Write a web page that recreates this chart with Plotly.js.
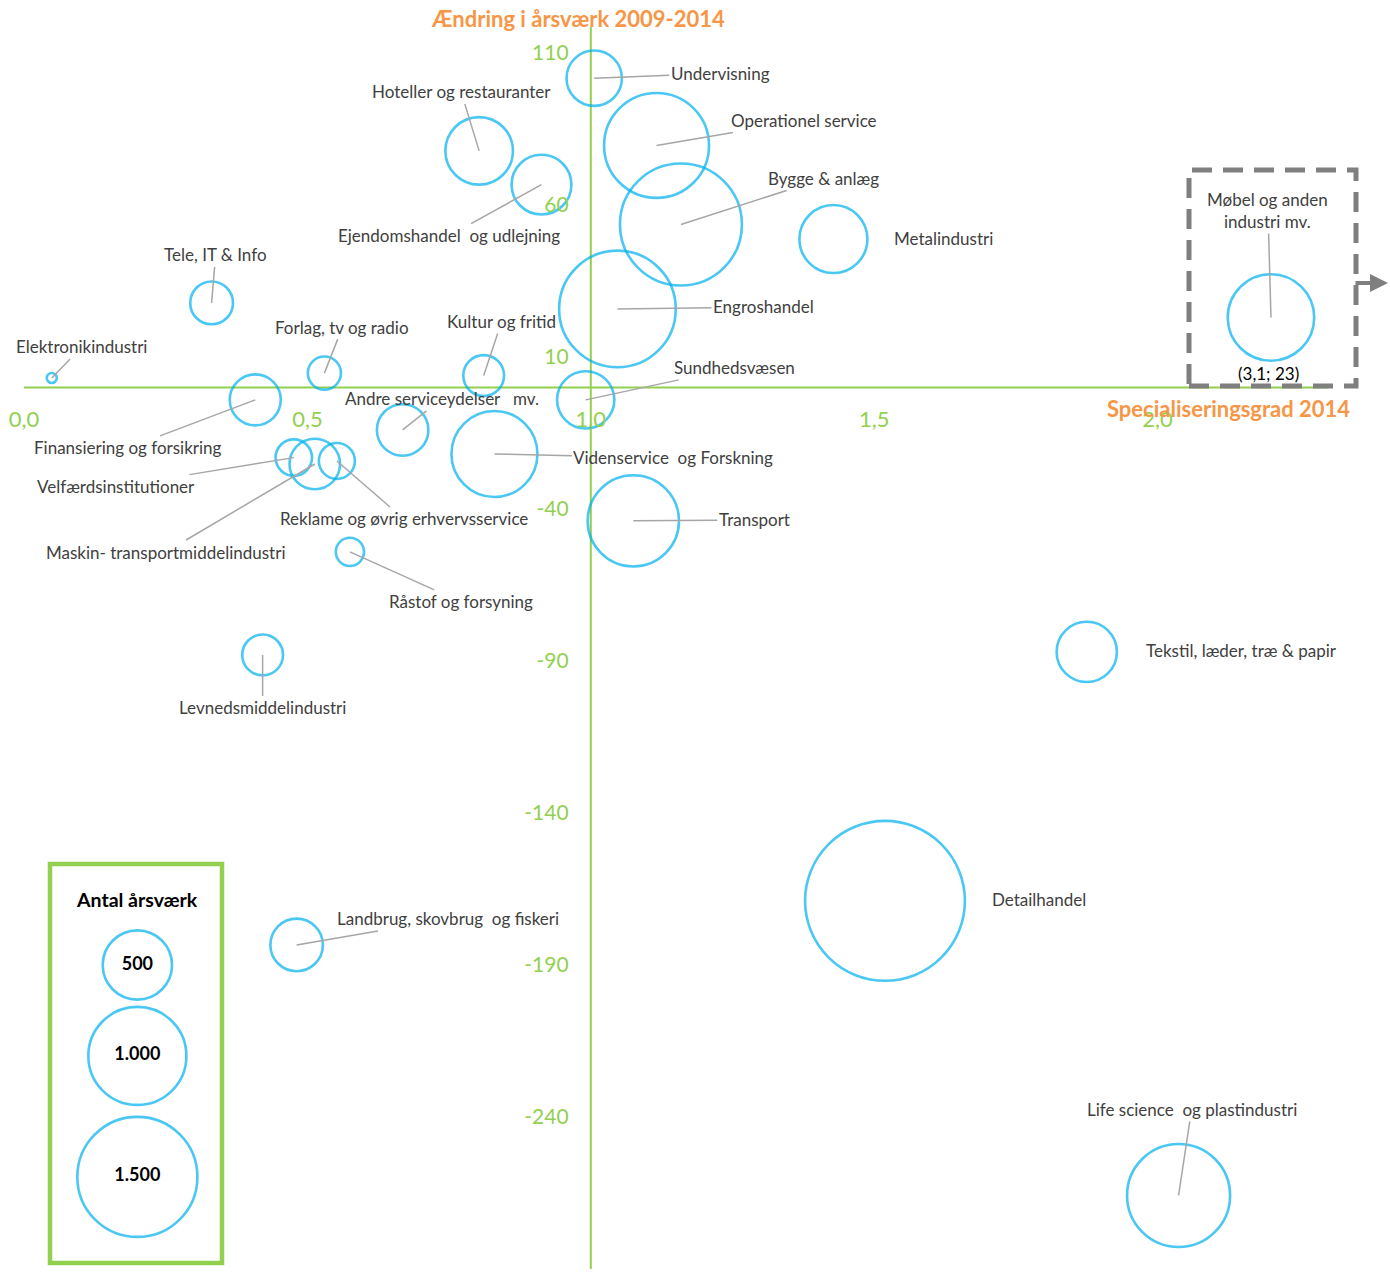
<!DOCTYPE html>
<html>
<head>
<meta charset="utf-8">
<script src="https://cdn.plot.ly/plotly-3.0.1.min.js"></script>
<style>
  body { margin: 0; background: #fff; }
  #chart { width: 1390px; height: 1278px; }
</style>
</head>
<body>
<div id="chart"></div>
<script>
// brancher, specialiseringsgrad 2014 (x), ændring i årsværk 2009-2014 (y), antal årsværk (boblens størrelse)
var brancher = ['Undervisning', 'Hoteller og restauranter', 'Ejendomshandel  og udlejning', 'Operationel service',
  'Bygge & anlæg', 'Metalindustri', 'Engroshandel', 'Tele, IT & Info', 'Elektronikindustri', 'Forlag, tv og radio',
  'Kultur og fritid', 'Sundhedsvæsen', 'Finansiering og forsikring', 'Andre serviceydelser   mv.',
  'Videnservice  og Forskning', 'Transport', 'Velfærdsinstitutioner', 'Maskin- transportmiddelindustri',
  'Reklame og øvrig erhvervsservice', 'Råstof og forsyning', 'Levnedsmiddelindustri', 'Tekstil, læder, træ & papir',
  'Detailhandel', 'Landbrug, skovbrug  og fiskeri', 'Life science  og plastindustri', 'Møbel og anden<br>industri mv.'];
var specialisering = [1.006, 0.803, 0.913, 1.116, 1.159, 1.428, 1.047, 0.331, 0.049, 0.530,
  0.811, 0.991, 0.408, 0.668, 0.830, 1.075, 0.476, 0.513, 0.552, 0.575,
  0.421, 1.875, 1.519, 0.481, 2.037, 3.1];
var aendring = [101.7, 77.8, 66.7, 79.6, 53.6, 48.8, 25.8, 27.8, 3.1, 4.7,
  3.9, -4.1, -4.1, -14.0, -21.9, -43.9, -23.1, -25.2, -24.2, -54.1,
  -88.0, -87.0, -168.9, -183.4, -265.8, 23];
var aarsvaerk = [319, 475, 372, 1146, 1548, 481, 1415, 190, 6, 114,
  173, 342, 271, 276, 770, 868, 138, 266, 135, 83,
  173, 378, 2659, 287, 1104, 778];

var legendValues = [500, 1000, 1500];
var legendLabels = ['500', '1.000', '1.500'];

var xTicks = [0, 0.5, 1, 1.5, 2];
var yTicks = [-290, -240, -190, -140, -90, -40, 10, 60, 110];

// points beyond the axis are shown at the edge, inside the dashed box
var xCap = 2.2;
var xShown = specialisering.map(function (v) { return Math.min(v, xCap); });

// label offsets in pixels from each bubble, and whether a leader line is drawn
var labelDx = [126, -18, -92, 147, 143, 110, 146, 4, 30, 18, 18, 149, -127, 39, 179, 121, -178, -149, 67, 111, 0, 155, 154, 151, 13, -3];
var labelDy = [-5, -59, 51, -25, -46, -1, -2, -48, -31, -46, -54, -32, 48, -31, 4, -1, 29, 88, 58, 50, 53, -1, -1, -26, -86, -107];
var leader = [1, 1, 1, 1, 1, 0, 1, 1, 1, 1, 1, 1, 1, 1, 1, 1, 1, 1, 1, 1, 1, 0, 0, 1, 1, 1];

var green = '#92D050', orange = '#F79646', blue = '#00B0F0', txt = '#404040', leadCol = '#A6A6A6';
var font = 'Lato, "Open Sans", sans-serif';
var sizeref = 2 / (3.1 * 3.1);

// plot area in page pixels: left 24, top 27, width 1366, height 1242
function px(x) { return (x - 24) / 1366; }
function py(y) { return (1269 - y) / 1242; }

var bubbles = {
  type: 'scatter', mode: 'markers',
  x: xShown, y: aendring, text: brancher,
  marker: { size: aarsvaerk, sizemode: 'area', sizeref: sizeref, sizemin: 5,
    color: 'rgba(0,0,0,0)', line: { color: blue, width: 2.6 } },
  cliponaxis: false, hoverinfo: 'skip'
};

var legendBubbles = {
  type: 'scatter', mode: 'markers+text',
  x: [0.2, 0.2, 0.2], y: [-190, -219.9, -259.7],
  text: legendLabels.map(function (s) { return '<b>' + s + '</b>'; }),
  textposition: 'middle center',
  textfont: { family: font, size: 18, color: '#000' },
  marker: { size: legendValues, sizemode: 'area', sizeref: sizeref,
    color: 'rgba(0,0,0,0)', line: { color: blue, width: 2.6 } },
  cliponaxis: false, hoverinfo: 'skip'
};

var annotations = [];
for (var i = 0; i < brancher.length; i++) {
  var a = {
    xref: 'x', yref: 'y', x: xShown[i], y: aendring[i],
    text: brancher[i].replace(/ {2,}/g, function (s) { return s.replace(/ /g, '\u00a0'); }),
    font: { family: font, size: 17, color: txt }
  };
  if (leader[i]) {
    a.showarrow = true; a.arrowhead = 0; a.arrowwidth = 1.5; a.arrowcolor = leadCol;
    a.ax = labelDx[i]; a.ay = labelDy[i]; a.standoff = 0;
  } else {
    a.showarrow = false; a.xshift = labelDx[i]; a.yshift = -labelDy[i];
  }
  annotations.push(a);
}
// the real coordinates of the capped point
specialisering.forEach(function (v, i) {
  if (v > xCap) {
    annotations.push({ xref: 'x', yref: 'y', x: xShown[i], y: aendring[i], showarrow: false, yshift: -56, xshift: -2,
      text: '(' + String(v).replace('.', ',') + '; ' + aendring[i] + ')',
      font: { family: font, size: 17, color: '#000' } });
  }
});
function paperText(x, y, text, size, color) {
  return { xref: 'paper', yref: 'paper', x: px(x), y: py(y), xanchor: 'center', yanchor: 'middle',
    showarrow: false, text: text, font: { family: font, size: size, color: color } };
}
annotations.push(
  paperText(578, 19, '<b>Ændring i årsværk 2009-2014</b>', 22, orange),
  paperText(1228, 408, '<b>Specialiseringsgrad 2014</b>', 22, orange),
  paperText(137, 899, '<b>Antal årsværk</b>', 19.5, '#000'),
  { xref: 'paper', yref: 'paper', x: px(1388), y: py(283), ax: -34, ay: 0, showarrow: true,
    arrowhead: 2, arrowsize: 0.9, arrowwidth: 4, arrowcolor: '#7F7F7F', text: '' }
);

var shapes = [
  { type: 'line', xref: 'x', yref: 'y', x0: 0, x1: 2.3, y0: 0, y1: 0, layer: 'below', line: { color: green, width: 2 } },
  { type: 'line', xref: 'x', yref: 'paper', x0: 1, x1: 1, y0: 0, y1: 1, layer: 'below', line: { color: green, width: 2 } },
  { type: 'rect', xref: 'paper', yref: 'paper', x0: px(50), x1: px(222), y0: py(1263), y1: py(864),
    line: { color: green, width: 4.5 } },
  { type: 'rect', xref: 'paper', yref: 'paper', x0: px(1189), x1: px(1356), y0: py(386), y1: py(170),
    line: { color: '#7F7F7F', width: 5, dash: '20px,11px' } }
];

var layout = {
  width: 1390, height: 1278,
  margin: { l: 24, r: 0, t: 27, b: 9 },
  paper_bgcolor: '#fff', plot_bgcolor: 'rgba(0,0,0,0)',
  showlegend: false,
  xaxis: { range: [0, 2.41], tickmode: 'array', tickvals: xTicks,
    ticktext: xTicks.map(function (v) { return v.toFixed(1).replace('.', ','); }),
    anchor: 'free', position: 290 / 408.55,
    ticks: 'outside', ticklen: 12, tickcolor: 'rgba(0,0,0,0)',
    showgrid: false, zeroline: false, showline: false,
    tickfont: { family: font, size: 22, color: green } },
  yaxis: { range: [-290, 118.55], tickmode: 'array', tickvals: yTicks,
    ticktext: yTicks.map(function (v) { return String(v); }),
    anchor: 'free', position: 1 / 2.41,
    ticks: 'outside', ticklen: 18, tickcolor: 'rgba(0,0,0,0)',
    showgrid: false, zeroline: false, showline: false,
    tickfont: { family: font, size: 21, color: green } },
  shapes: shapes,
  annotations: annotations
};

Plotly.newPlot('chart', [bubbles, legendBubbles], layout, { displayModeBar: false, staticPlot: true });
</script>
</body>
</html>
